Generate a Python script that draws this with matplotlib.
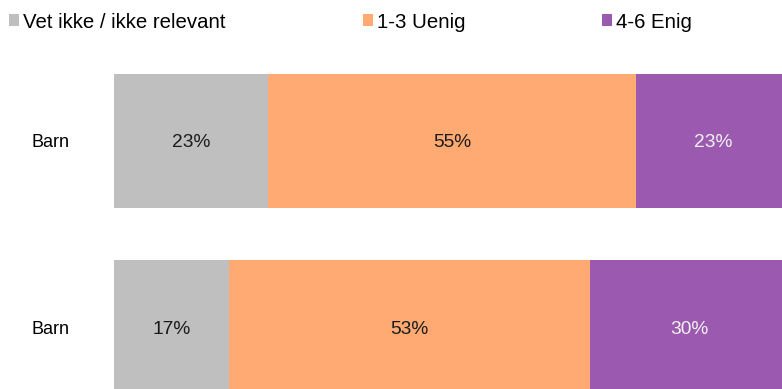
import matplotlib.pyplot as plt
from matplotlib.patches import Patch

plt.rcParams['font.family'] = ['Liberation Sans', 'DejaVu Sans']

# kategorier (svar)
categories = ['Vet ikke / ikke relevant', '1-3 Uenig', '4-6 Enig']
colors = ['#BFBFBF', '#FFAA73', '#9B59B0']
text_colors = ['#1a1a1a', '#1a1a1a', '#F2F2F2']

# rader
rows = ['Barn', 'Barn']

# andeler i prosent per rad
values = [
    [22.8, 54.6, 22.6],
    [17.1, 53.4, 29.5],
]

fig = plt.figure(figsize=(7.82, 3.89), dpi=100)
# plottet går litt utenfor høyre kant (beskåret som i originalen)
ax = fig.add_axes([114 / 782, 0, 675 / 782, 315 / 389])

for i, row in enumerate(values):
    left = 0
    for j, v in enumerate(row):
        ax.barh(i, v, left=left, height=0.72, color=colors[j], edgecolor='none')
        ax.text(left + v / 2, i, f'{v:.0f}%', ha='center', va='center_baseline',
                fontsize=13.8, color=text_colors[j])
        left += v

ax.set_xlim(0, 100)
ax.set_ylim(1.333, -0.36)
ax.set_yticks(range(len(rows)))
ax.set_yticklabels(rows, fontsize=13)
ax.tick_params(axis='y', length=0, pad=32)
ax.set_xticks([])
for s in ax.spines.values():
    s.set_visible(False)

handles = [Patch(facecolor=c, edgecolor='none') for c in colors]
fig.legend(handles, categories, loc='center left', bbox_to_anchor=(9 / 782, 1 - 22 / 389),
           ncol=3, frameon=False, fontsize=14.7, handlelength=0.5, handleheight=0.5,
           handletextpad=0.2, columnspacing=6.7, borderaxespad=0, borderpad=0)

fig.savefig('out.png', dpi=100)
